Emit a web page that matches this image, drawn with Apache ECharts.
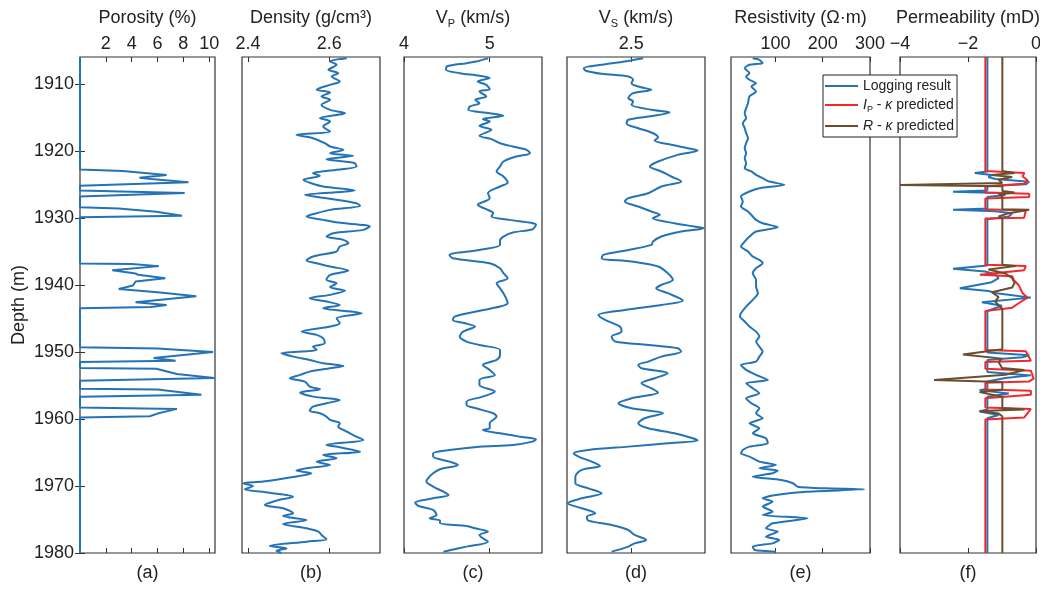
<!DOCTYPE html>
<html>
<head>
<meta charset="utf-8">
<script src="https://cdn.jsdelivr.net/npm/echarts@6/dist/echarts.min.js"></script>
<style>html,body{margin:0;padding:0;background:#fff}#chart{width:1040px;height:589px}</style>
</head>
<body>
<div id="chart"></div>
<script>
// well log curves, each point is [value, depth in m]
const porosity = [
  [0,1906],[0,1922.8],[3.3,1923.0],[6.7,1923.6],[4.6,1924.0],[5.5,1924.2],[8.4,1924.7],[0,1925.2],
  [0,1925.9],[4.0,1926.1],[8.1,1926.3],[0,1926.8],[0,1928.4],[3.0,1928.6],[5.9,1929.1],[7.9,1929.7],[0,1929.9],
  [0,1936.8],[4.0,1936.9],[6.1,1937.2],[2.5,1937.8],[4.3,1938.3],[4.5,1938.5],[6.6,1939.0],[4.3,1939.5],
  [4.1,1940.1],[3.0,1940.6],[6.0,1941.1],[9.0,1941.7],[4.3,1942.6],[6.7,1943.0],[5.5,1943.3],[0,1943.5],
  [0,1949.3],[6.0,1949.5],[10.3,1950.0],[5.7,1950.9],[7.4,1951.3],[0,1951.5],[0,1952.4],[5.9,1952.5],
  [7.5,1953.3],[10.4,1953.9],[0,1954.3],[0,1955.5],[6.0,1955.6],[9.4,1956.4],[0,1956.7],[0,1958.3],
  [7.5,1958.5],[6.0,1959.2],[5.4,1959.6],[0,1959.8],[0,1980]
];

const density = [
  [2.643,1906.2],[2.602,1906.67],[2.618,1907.16],[2.598,1907.91],[2.622,1908.41],[2.606,1908.9],[2.626,1909.65],
  [2.602,1910.15],[2.569,1910.9],[2.602,1911.29],[2.581,1911.89],[2.602,1912.39],[2.581,1913.13],[2.602,1913.88],
  [2.639,1914.38],[2.577,1915.12],[2.602,1915.62],[2.585,1916.37],[2.602,1917.11],[2.519,1917.61],[2.56,1918.11],
  [2.589,1918.86],[2.602,1919.35],[2.635,1919.85],[2.602,1920.35],[2.659,1920.75],[2.593,1921.24],[2.663,1921.84],
  [2.667,1922.34],[2.602,1922.94],[2.56,1923.33],[2.577,1923.73],[2.536,1924.33],[2.556,1924.83],[2.585,1925.32],
  [2.663,1925.92],[2.54,1926.57],[2.593,1927.06],[2.667,1927.81],[2.676,1928.21],[2.602,1928.81],[2.569,1929.3],
  [2.544,1929.8],[2.585,1930.3],[2.622,1930.7],[2.7,1931.29],[2.684,1931.79],[2.61,1932.29],[2.593,1932.79],
  [2.635,1933.28],[2.647,1933.78],[2.626,1934.28],[2.618,1935.02],[2.56,1935.77],[2.544,1936.37],[2.569,1936.77],
  [2.602,1937.26],[2.647,1937.86],[2.602,1938.51],[2.593,1939.25],[2.618,1939.75],[2.602,1940.35],[2.639,1940.85],
  [2.602,1941.49],[2.552,1941.99],[2.593,1942.49],[2.626,1942.99],[2.585,1943.48],[2.68,1944.23],[2.618,1944.98],
  [2.626,1945.72],[2.602,1946.22],[2.532,1946.97],[2.569,1947.46],[2.585,1947.96],[2.589,1948.71],[2.56,1949.21],
  [2.569,1949.7],[2.482,1950.2],[2.511,1950.7],[2.552,1951.2],[2.585,1951.69],[2.635,1952.09],[2.602,1952.44],
  [2.552,1952.94],[2.528,1953.43],[2.503,1953.93],[2.54,1954.43],[2.552,1955.18],[2.577,1955.57],[2.528,1956.07],
  [2.56,1956.67],[2.626,1957.17],[2.593,1957.66],[2.56,1958.16],[2.552,1958.76],[2.577,1959.16],[2.593,1959.65],
  [2.602,1960.15],[2.626,1960.65],[2.622,1961.15],[2.635,1961.64],[2.651,1962.14],[2.667,1962.64],[2.684,1963.14],
  [2.593,1963.88],[2.626,1964.23],[2.676,1964.88],[2.585,1965.37],[2.618,1965.87],[2.569,1966.37],[2.602,1966.87],
  [2.544,1967.36],[2.519,1967.71],[2.556,1968.11],[2.507,1968.71],[2.437,1969.35],[2.388,1969.6],[2.412,1970.0],
  [2.392,1970.5],[2.453,1971.0],[2.511,1971.59],[2.47,1972.19],[2.441,1972.84],[2.486,1973.33],[2.511,1974.08],
  [2.486,1974.48],[2.544,1975.08],[2.486,1975.67],[2.544,1976.32],[2.573,1976.82],[2.581,1977.31],[2.593,1977.96],
  [2.544,1978.31],[2.453,1978.96],[2.495,1979.31],[2.47,1979.65],[2.482,1980]
];

const vp = [
  [4.98,1906.2],[4.84,1906.67],[4.73,1906.92],[4.5,1907.41],[4.49,1907.91],[4.65,1908.41],[4.88,1908.81],
  [5.0,1909.15],[4.86,1909.65],[4.96,1910.15],[5.0,1910.8],[4.88,1911.14],[4.96,1911.89],[4.83,1912.39],
  [4.88,1912.89],[4.77,1913.38],[4.75,1913.88],[5.0,1914.38],[5.16,1914.78],[4.92,1915.27],[5.0,1915.62],
  [4.88,1916.27],[5.02,1916.87],[4.88,1917.76],[5.02,1918.26],[5.12,1918.86],[5.27,1919.35],[5.43,1919.85],
  [5.47,1920.35],[5.31,1920.85],[5.16,1921.59],[5.12,1922.34],[5.08,1923.08],[5.16,1923.83],[5.21,1924.73],
  [5.12,1925.32],[4.98,1926.32],[5.0,1927.06],[4.86,1928.06],[4.96,1928.71],[5.04,1929.3],[5.02,1929.8],
  [5.23,1930.3],[5.54,1931.04],[5.5,1931.69],[5.27,1932.19],[5.16,1932.79],[5.12,1933.38],[5.12,1934.03],
  [4.88,1934.78],[4.53,1935.52],[4.57,1936.02],[5.0,1936.77],[5.12,1937.51],[5.16,1938.26],[5.21,1939.0],
  [5.08,1939.75],[5.12,1940.5],[5.16,1941.24],[5.19,1941.99],[5.21,1942.74],[5.12,1943.23],[4.84,1943.98],
  [4.59,1944.73],[4.57,1945.22],[4.71,1945.72],[4.83,1946.22],[4.69,1946.97],[4.65,1947.71],[4.73,1948.46],
  [4.88,1948.96],[5.12,1949.7],[5.12,1950.45],[5.08,1951.19],[4.92,1951.94],[5.0,1952.69],[5.06,1953.43],
  [4.88,1954.18],[4.88,1954.93],[5.06,1955.92],[4.92,1956.67],[4.73,1957.41],[4.73,1957.91],[4.84,1958.41],
  [5.04,1959.15],[5.08,1959.65],[5.0,1960.65],[5.0,1961.39],[4.92,1961.64],[5.12,1962.14],[5.35,1962.64],
  [5.54,1963.03],[5.5,1963.38],[5.27,1963.88],[4.88,1964.13],[4.53,1964.63],[4.34,1965.12],[4.34,1965.62],
  [4.53,1966.37],[4.63,1966.87],[4.42,1967.51],[4.34,1968.11],[4.28,1968.86],[4.26,1969.35],[4.34,1970.1],
  [4.46,1970.85],[4.52,1971.34],[4.34,1971.84],[4.13,1972.49],[4.17,1972.99],[4.34,1973.58],[4.38,1974.33],
  [4.3,1974.83],[4.42,1975.17],[4.42,1975.57],[4.73,1975.97],[4.83,1976.32],[4.98,1976.81],[4.88,1977.31],
  [4.92,1977.81],[4.98,1978.31],[4.73,1979.05],[4.46,1979.8]
];

const vs = [
  [2.537,1906.2],[2.48,1906.67],[2.408,1907.16],[2.352,1907.66],[2.357,1908.01],[2.408,1908.51],[2.491,1908.9],
  [2.506,1909.4],[2.501,1909.9],[2.522,1910.4],[2.563,1910.9],[2.506,1911.39],[2.491,1912.14],[2.506,1912.64],
  [2.501,1913.13],[2.563,1913.88],[2.62,1914.28],[2.553,1914.88],[2.491,1915.37],[2.486,1915.97],[2.522,1916.62],
  [2.563,1917.26],[2.584,1917.96],[2.573,1918.46],[2.625,1919.1],[2.676,1919.6],[2.707,1919.95],[2.645,1920.6],
  [2.584,1921.59],[2.558,1922.34],[2.594,1923.08],[2.625,1923.83],[2.656,1924.58],[2.594,1925.32],[2.553,1926.32],
  [2.491,1927.06],[2.48,1927.56],[2.522,1928.31],[2.563,1929.05],[2.589,1929.55],[2.568,1930.05],[2.635,1930.8],
  [2.697,1931.29],[2.726,1931.54],[2.656,1932.04],[2.594,1932.79],[2.568,1933.53],[2.563,1934.03],[2.491,1934.78],
  [2.413,1935.52],[2.408,1936.02],[2.501,1936.52],[2.584,1937.26],[2.614,1938.26],[2.63,1939.25],[2.594,1940.0],
  [2.578,1940.5],[2.614,1941.24],[2.661,1942.34],[2.594,1942.99],[2.48,1943.73],[2.398,1944.48],[2.419,1945.22],
  [2.465,1946.22],[2.47,1946.97],[2.439,1947.71],[2.45,1948.46],[2.553,1948.96],[2.645,1949.45],[2.656,1949.95],
  [2.594,1950.7],[2.553,1951.44],[2.522,1951.94],[2.532,1952.44],[2.614,1953.18],[2.573,1953.93],[2.532,1954.68],
  [2.563,1955.42],[2.584,1956.07],[2.501,1956.92],[2.46,1957.66],[2.501,1958.41],[2.599,1959.15],[2.542,1959.9],
  [2.522,1960.65],[2.553,1961.39],[2.635,1962.14],[2.692,1962.89],[2.707,1963.23],[2.614,1963.63],[2.491,1964.13],
  [2.367,1964.63],[2.321,1965.12],[2.336,1965.62],[2.377,1966.37],[2.403,1967.01],[2.346,1967.61],[2.326,1968.61],
  [2.326,1969.6],[2.367,1970.35],[2.408,1971.09],[2.346,1971.84],[2.302,1972.59],[2.346,1973.33],[2.388,1974.08],
  [2.362,1974.58],[2.367,1975.17],[2.439,1975.82],[2.491,1976.57],[2.511,1977.31],[2.547,1978.06],[2.511,1978.56],
  [2.491,1979.05],[2.439,1979.8]
];

const resistivity = [
  [52,1906.2],[66,1906.42],[73,1906.92],[45,1907.16],[35,1907.66],[45,1908.41],[38,1908.9],[45,1909.4],
  [59,1909.9],[49,1910.4],[59,1911.14],[45,1911.89],[42,1912.89],[38,1913.63],[35,1914.38],[38,1915.12],
  [31,1915.87],[35,1916.62],[38,1917.36],[42,1918.11],[38,1918.86],[35,1919.6],[38,1920.35],[35,1921.09],
  [38,1921.84],[35,1922.59],[49,1923.08],[59,1923.58],[73,1924.08],[87,1924.58],[119,1925.07],[66,1925.57],
  [45,1926.07],[27,1926.81],[31,1927.56],[27,1928.31],[42,1929.05],[52,1929.8],[59,1930.3],[73,1930.8],
  [105,1931.39],[59,1932.04],[45,1932.79],[35,1933.53],[27,1934.28],[42,1935.02],[52,1935.77],[66,1936.27],
  [73,1936.77],[59,1937.51],[52,1938.26],[59,1939.25],[59,1940.25],[63,1941.24],[52,1942.24],[38,1943.23],
  [27,1944.23],[25,1944.73],[35,1945.47],[45,1946.22],[59,1946.97],[66,1947.71],[59,1948.46],[66,1949.2],
  [73,1949.95],[66,1950.7],[59,1951.44],[27,1951.94],[38,1952.69],[59,1953.43],[84,1954.18],[38,1954.68],
  [52,1955.42],[66,1956.17],[38,1956.92],[49,1957.66],[66,1958.41],[59,1959.15],[73,1959.9],[45,1960.65],
  [66,1961.39],[52,1962.14],[80,1962.89],[84,1963.63],[45,1964.13],[31,1964.63],[27,1965.12],[45,1965.62],
  [66,1966.37],[101,1966.87],[66,1967.36],[105,1967.71],[94,1968.11],[52,1968.61],[112,1969.1],[137,1969.6],
  [147,1970.1],[207,1970.35],[288,1970.5],[165,1970.85],[101,1971.34],[73,1971.84],[94,1972.34],[73,1973.08],
  [94,1973.83],[73,1974.33],[168,1974.83],[94,1975.57],[80,1976.32],[105,1976.81],[80,1977.56],[108,1978.06],
  [94,1978.56],[52,1979.05],[56,1979.55],[101,1979.8]
];

const permLogging = [
  [-1.43,1906],[-1.43,1923.1],[-1.8,1923.3],[-1.3,1923.6],[-1.4,1923.9],[-1.2,1924.2],[-0.2,1924.6],[-0.3,1925.0],
  [-1.43,1925.3],[-1.43,1925.9],[-2.44,1926.1],[-1.1,1926.3],[-0.9,1926.6],[-1.43,1926.9],[-1.43,1928.6],
  [-2.44,1928.8],[-1.2,1929.0],[-0.7,1929.3],[-0.8,1929.8],[-1.43,1930.2],[-1.43,1937.1],[-2.44,1937.6],
  [-1.5,1938.0],[-1.2,1938.4],[-1.1,1939.0],[-1.3,1939.6],[-2.24,1940.5],[-1.4,1940.9],[-1.1,1941.3],
  [-0.15,1941.9],[-1.59,1942.6],[-1.0,1943.1],[-1.43,1943.9],[-1.43,1950.1],[-0.2,1950.5],[-0.4,1950.8],
  [-1.43,1951.2],[-1.43,1953.0],[-0.15,1953.5],[-0.9,1953.9],[-1.43,1954.4],[-1.43,1955.5],[-1.66,1955.7],
  [-0.8,1956.2],[-1.43,1956.7],[-1.43,1958.6],[-1.66,1958.9],[-1.1,1959.4],[-1.43,1959.9],[-1.43,1980]
];

const permIp = [
  [-1.49,1906],[-1.49,1923.0],[-0.34,1923.3],[-0.4,1923.8],[-0.25,1924.4],[-0.35,1924.9],[-1.49,1925.3],
  [-1.49,1926.2],[-0.2,1926.4],[-0.2,1926.9],[-1.49,1927.1],[-1.49,1928.7],[-0.3,1928.9],[-0.35,1930.0],
  [-1.49,1930.1],[-1.49,1937.0],[-0.3,1937.2],[-0.35,1937.8],[-1.65,1938.5],[-0.7,1938.7],[-0.65,1939.3],
  [-0.5,1940.1],[-0.4,1941.2],[-0.25,1941.9],[-0.5,1942.7],[-0.7,1943.4],[-1.49,1943.9],[-1.49,1949.7],
  [-0.3,1949.9],[-0.15,1951.3],[-1.49,1951.5],[-1.49,1952.5],[-0.15,1952.8],[-0.07,1954.0],[-0.2,1954.4],
  [-1.49,1954.6],[-1.49,1955.6],[-0.15,1955.8],[-0.15,1956.4],[-1.49,1956.9],[-1.49,1958.3],[-0.15,1958.5],
  [-0.35,1959.8],[-1.49,1960.1],[-1.49,1980]
];

const permR = [
  [-0.99,1906],[-0.99,1923.0],[-0.63,1923.3],[-1.3,1923.6],[-0.7,1923.9],[-1.1,1924.3],[-0.99,1924.8],
  [-4.0,1925.1],[-0.99,1925.3],[-0.99,1926.0],[-0.63,1926.2],[-1.1,1926.5],[-0.99,1926.8],[-0.99,1928.7],
  [-0.2,1928.8],[-0.8,1929.3],[-1.1,1929.8],[-0.99,1930.1],[-0.99,1937.0],[-0.6,1937.2],[-1.4,1937.7],
  [-0.9,1938.3],[-0.7,1939.0],[-0.63,1939.7],[-0.7,1940.4],[-1.3,1941.1],[-1.1,1941.8],[-1.2,1942.5],
  [-0.99,1943.6],[-0.99,1949.6],[-2.15,1950.4],[-1.0,1951.0],[-1.1,1951.5],[-1.0,1952.4],[-0.34,1952.7],
  [-0.9,1953.4],[-3.0,1954.2],[-0.99,1954.5],[-0.99,1955.6],[-1.66,1956.0],[-0.99,1956.7],[-0.99,1958.4],
  [-0.34,1958.6],[-1.66,1958.8],[-1.1,1959.2],[-0.99,1959.6],[-0.99,1980]
];

// tick labels
const depthTicks = [1910, 1920, 1930, 1940, 1950, 1960, 1970, 1980];
const porosityTicks = [2, 4, 6, 8, 10];
const densityTicks = [2.4, 2.6];
const vpTicks = [4, 5];
const vsTicks = [2.5];
const resTicks = [100, 200, 300];
const permTicks = [-4, -2, 0];
const panelTags = ['(a)', '(b)', '(c)', '(d)', '(e)', '(f)'];

const FONT = "'Liberation Sans', Arial, sans-serif";
const INK = '#222';
const BLUE = '#2573b5';
const RED = '#f2282b';
const BROWN = '#6b4e2d';

const rich = {
  n: { fontFamily: FONT, fontSize: 18, color: INK, lineHeight: 22 },
  s: { fontFamily: FONT, fontSize: 11, color: INK, verticalAlign: 'bottom' }
};

const panels = [
  { left: 80,  width: 135, min: 0,     max: 10.45, ticks: porosityTicks, name: '{n|Porosity (%)}' },
  { left: 242, width: 138, min: 2.385, max: 2.725, ticks: densityTicks,  name: '{n|Density (g/cm³)}' },
  { left: 404, width: 138, min: 4,     max: 5.61,  ticks: vpTicks,       name: '{n|V}{s|P}{n| (km/s)}' },
  { left: 567, width: 138, min: 2.3,   max: 2.73,  ticks: vsTicks,       name: '{n|V}{s|S}{n| (km/s)}' },
  { left: 731, width: 139, min: 6,     max: 300,   ticks: resTicks,      name: '{n|Resistivity (Ω·m)}' },
  { left: 900, width: 136, min: -4,    max: 0,     ticks: permTicks,     name: '{n|Permeability (mD)}' }
];

const tickFmt = v => (v < 0 ? '\u2212' + Math.abs(v) : String(v));

const grids = panels.map(p => ({
  left: p.left, width: p.width, top: 57, height: 496,
  outerBoundsMode: 'none', containLabel: false,
  show: true, borderColor: '#333', borderWidth: 1.2, backgroundColor: 'transparent'
}));

const xTop = panels.map((p, i) => ({
  type: 'value', gridIndex: i, position: 'top', min: p.min, max: p.max,
  axisLine: { show: false },
  axisTick: { inside: true, length: 5, lineStyle: { color: '#333' }, customValues: p.ticks },
  axisLabel: { customValues: p.ticks, formatter: tickFmt, fontFamily: FONT, fontSize: 18, color: INK, margin: 4 },
  splitLine: { show: false },
  name: p.name, nameLocation: 'middle', nameGap: 28, nameTextStyle: { rich: rich }
}));

const xBottom = panels.map((p, i) => ({
  type: 'value', gridIndex: i, position: 'bottom', min: p.min, max: p.max,
  axisLine: { show: false },
  axisTick: { inside: true, length: 5, lineStyle: { color: '#333' }, customValues: p.ticks },
  axisLabel: { show: false },
  splitLine: { show: false },
  name: panelTags[i], nameLocation: 'middle', nameGap: 11,
  nameTextStyle: { fontFamily: FONT, fontSize: 18, color: INK }
}));

const yAxes = panels.map((p, i) => ({
  type: 'value', gridIndex: i, inverse: true, min: 1906, max: 1980,
  axisLine: { show: false },
  axisTick: i === 0
    ? { inside: true, length: 5, lineStyle: { color: '#333' }, customValues: depthTicks }
    : { show: false },
  axisLabel: i === 0
    ? { customValues: depthTicks, formatter: v => String(v), fontFamily: FONT, fontSize: 18, color: INK, margin: 6 }
    : { show: false },
  splitLine: { show: false },
  name: i === 0 ? 'Depth (m)' : '', nameLocation: 'middle', nameGap: 52,
  nameTextStyle: { fontFamily: FONT, fontSize: 18, color: INK }
}));
// mirrored depth ticks on the right side of panel (a)
yAxes.push({
  type: 'value', gridIndex: 0, position: 'right', inverse: true, min: 1906, max: 1980,
  axisLine: { show: false },
  axisTick: { inside: true, length: 5, lineStyle: { color: '#333' }, customValues: depthTicks },
  axisLabel: { show: false },
  splitLine: { show: false }
});

function curve(name, data, i, color, smooth) {
  return {
    name: name, type: 'line', xAxisIndex: i, yAxisIndex: i, data: data,
    symbol: 'none', smooth: smooth, clip: false,
    lineStyle: { color: color, width: 2 }, itemStyle: { color: color }
  };
}

const series = [
  curve('porosity', porosity, 0, BLUE, false),
  curve('density', density, 1, BLUE, 0.3),
  curve('vp', vp, 2, BLUE, 0.3),
  curve('vs', vs, 3, BLUE, 0.3),
  curve('resistivity', resistivity, 4, BLUE, 0.2),
  curve('Logging result', permLogging, 5, BLUE, false),
  curve('Ip predicted', permIp, 5, RED, false),
  curve('R predicted', permR, 5, BROWN, false)
];

const legendRich = {
  t: { fontFamily: FONT, fontSize: 14, color: INK, lineHeight: 18 },
  i: { fontFamily: FONT, fontSize: 14, color: INK, fontStyle: 'italic', lineHeight: 18 },
  s: { fontFamily: FONT, fontSize: 9, color: INK, verticalAlign: 'bottom' }
};
const legendLabels = {
  'Logging result': '{t|Logging result}',
  'Ip predicted': '{i|I}{s|P}{t| - }{i|κ}{t| predicted}',
  'R predicted': '{i|R}{t| - }{i|κ}{t| predicted}'
};

const chart = echarts.init(document.getElementById('chart'), null, { renderer: 'canvas' });
chart.setOption({
  animation: false,
  backgroundColor: '#fff',
  grid: grids,
  xAxis: xTop.concat(xBottom),
  yAxis: yAxes,
  legend: {
    data: ['Logging result', 'Ip predicted', 'R predicted'],
    icon: 'rect',
    orient: 'vertical', left: 823, top: 75, align: 'left',
    backgroundColor: '#fff', borderColor: '#222', borderWidth: 1, borderRadius: 0,
    padding: [4, 3, 4, 2], itemGap: 5, itemWidth: 33, itemHeight: 2,
    formatter: name => legendLabels[name],
    textStyle: { rich: legendRich }
  },
  series: series
});
</script>
</body>
</html>
